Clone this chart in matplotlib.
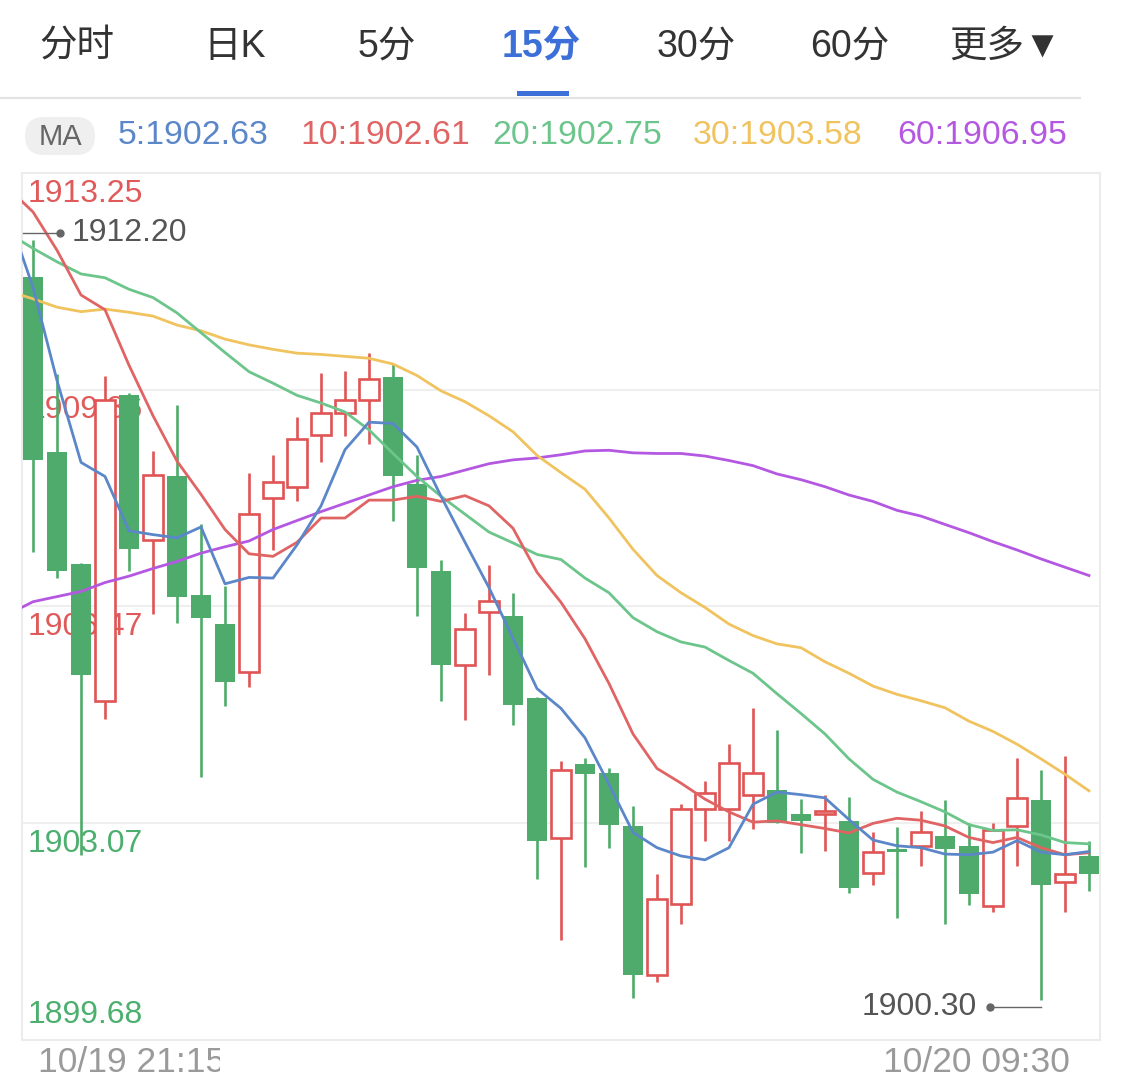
import matplotlib
matplotlib.use("Agg")
import matplotlib.pyplot as plt
import numpy as np
from matplotlib.patches import FancyBboxPatch, Rectangle
from matplotlib.transforms import Bbox, TransformedBbox, offset_copy

plt.rcParams["font.family"] = ["Liberation Sans", "Noto Sans CJK SC", "DejaVu Sans"]

# ---- data (15-minute candles) ----
opens = [1911.62, 1908.88, 1907.13, 1904.99, 1909.77, 1907.51, 1908.50, 1906.65, 1906.19, 1905.44,
         1908.16, 1908.33, 1909.15, 1909.50, 1909.69, 1910.06, 1908.38, 1907.02, 1905.55, 1906.38,
         1906.31, 1905.03, 1902.84, 1904.00, 1903.86, 1903.03, 1900.70, 1901.81, 1903.29, 1903.30,
         1903.52, 1903.60, 1903.21, 1903.21, 1903.10, 1902.30, 1902.67, 1902.72, 1902.88, 1902.72,
         1901.77, 1903.03, 1903.43, 1902.16, 1902.56]
highs = [1912.20, 1910.10, 1907.15, 1910.08, 1909.80, 1908.90, 1909.62, 1907.75, 1906.79, 1908.56,
         1908.84, 1909.43, 1910.12, 1910.15, 1910.43, 1910.26, 1908.83, 1907.20, 1906.37, 1907.12,
         1906.68, 1905.05, 1904.04, 1904.09, 1903.93, 1903.34, 1902.28, 1903.38, 1903.74, 1904.31,
         1904.87, 1904.53, 1903.45, 1903.52, 1903.48, 1902.93, 1903.01, 1903.27, 1903.43, 1903.07,
         1903.07, 1904.09, 1903.90, 1904.12, 1902.80]
lows = [1907.32, 1906.91, 1902.58, 1904.71, 1907.02, 1906.35, 1906.21, 1903.80, 1904.91, 1905.20,
        1907.35, 1908.11, 1908.72, 1909.13, 1909.01, 1907.81, 1906.31, 1904.99, 1904.69, 1905.40,
        1904.61, 1902.20, 1901.25, 1902.38, 1902.69, 1900.33, 1900.59, 1901.49, 1902.79, 1902.79,
        1902.99, 1903.07, 1902.61, 1902.64, 1901.98, 1902.10, 1901.59, 1902.40, 1901.49, 1901.79,
        1901.69, 1902.40, 1900.30, 1901.69, 1902.01]
closes = [1908.76, 1907.02, 1905.40, 1909.69, 1907.36, 1908.53, 1906.61, 1906.29, 1905.28, 1907.91,
          1908.41, 1909.08, 1909.50, 1909.69, 1910.03, 1908.50, 1907.06, 1905.55, 1906.11, 1906.55,
          1904.92, 1902.80, 1903.90, 1903.84, 1903.05, 1900.70, 1901.88, 1903.29, 1903.55, 1904.02,
          1903.86, 1903.07, 1903.11, 1903.26, 1902.06, 1902.62, 1902.62, 1902.93, 1902.67, 1901.97,
          1902.96, 1903.46, 1902.10, 1902.28, 1902.28]

# moving averages, first value belongs to the candle just left of the view
ma5 = [1912.55, 1911.46, 1910.00, 1908.72, 1908.50, 1907.65, 1907.59, 1907.54, 1907.71, 1906.82,
       1906.92, 1906.91, 1907.43, 1908.04, 1908.92, 1909.35, 1909.33, 1908.96, 1908.19, 1907.47,
       1906.76, 1905.97, 1905.18, 1904.87, 1904.41, 1903.68, 1902.93, 1902.69, 1902.56, 1902.50,
       1902.69, 1903.37, 1903.56, 1903.52, 1903.47, 1903.13, 1902.81, 1902.72, 1902.69, 1902.59,
       1902.58, 1902.62, 1902.80, 1902.62, 1902.58, 1902.63]
ma10 = [1913.00, 1912.64, 1912.04, 1911.34, 1911.11, 1910.24, 1909.45, 1908.74, 1908.22, 1907.67,
        1907.29, 1907.25, 1907.47, 1907.85, 1907.85, 1908.13, 1908.13, 1908.19, 1908.11, 1908.20,
        1908.04, 1907.69, 1907.00, 1906.53, 1905.96, 1905.26, 1904.47, 1903.93, 1903.70, 1903.45,
        1903.25, 1903.09, 1903.11, 1903.05, 1902.99, 1902.92, 1903.07, 1903.15, 1903.12, 1903.03,
        1902.85, 1902.77, 1902.85, 1902.69, 1902.58, 1902.61]
ma20 = [1912.30, 1912.07, 1911.86, 1911.67, 1911.61, 1911.43, 1911.30, 1911.06, 1910.75, 1910.44,
        1910.14, 1909.96, 1909.77, 1909.65, 1909.51, 1909.23, 1908.86, 1908.50, 1908.19, 1907.91,
        1907.63, 1907.46, 1907.28, 1907.20, 1906.91, 1906.68, 1906.29, 1906.07, 1905.91, 1905.83,
        1905.62, 1905.42, 1905.10, 1904.79, 1904.47, 1904.08, 1903.76, 1903.56, 1903.41, 1903.25,
        1903.05, 1902.96, 1902.97, 1902.89, 1902.77, 1902.75]
ma30 = [1911.40, 1911.28, 1911.15, 1911.08, 1911.12, 1911.07, 1911.01, 1910.87, 1910.78, 1910.65,
        1910.56, 1910.49, 1910.43, 1910.41, 1910.38, 1910.35, 1910.26, 1910.08, 1909.84, 1909.67,
        1909.45, 1909.20, 1908.83, 1908.56, 1908.30, 1907.85, 1907.36, 1906.95, 1906.68, 1906.45,
        1906.19, 1906.01, 1905.88, 1905.82, 1905.60, 1905.42, 1905.22, 1905.09, 1904.99, 1904.88,
        1904.67, 1904.51, 1904.31, 1904.08, 1903.84, 1903.58]
ma60 = [1906.35, 1906.54, 1906.62, 1906.70, 1906.84, 1906.94, 1907.06, 1907.17, 1907.30, 1907.40,
        1907.49, 1907.67, 1907.81, 1907.95, 1908.08, 1908.21, 1908.34, 1908.44, 1908.50, 1908.60,
        1908.70, 1908.76, 1908.79, 1908.84, 1908.90, 1908.91, 1908.87, 1908.86, 1908.86, 1908.82,
        1908.75, 1908.67, 1908.54, 1908.45, 1908.34, 1908.21, 1908.11, 1907.97, 1907.88, 1907.75,
        1907.62, 1907.48, 1907.35, 1907.21, 1907.08, 1906.95]

ma_labels = ["5:1902.63", "10:1902.61", "20:1902.75", "30:1903.58", "60:1906.95"]
ma_colors = ["#5b87c9", "#e06464", "#6cc58b", "#f0c35e", "#b458e2"]

tabs = ["分时", "日K", "5分", "15分", "30分", "60分", "更多▼"]
active_tab = "15分"

y_ticks = [1913.25, 1909.86, 1906.47, 1903.07, 1899.68]
y_tick_colors = ["#e05a5a", "#e05a5a", "#e05a5a", "#4caf6e", "#4caf6e"]
x_labels = ["10/19 21:15", "10/20 09:30"]
hi_label, lo_label = "1912.20", "1900.30"

GREEN = "#4eab6b"
RED = "#e05454"

W, H = 1125, 1085
fig = plt.figure(figsize=(W / 100, H / 100), dpi=100)
fig.patch.set_facecolor("white")

# pixel-space overlay for the app chrome
hax = fig.add_axes([0, 0, 1, 1], zorder=0)
hax.set_xlim(0, W)
hax.set_ylim(H, 0)
hax.axis("off")

tab_x = [77, 235, 387, 541, 696, 850, 1005]
for name, x in zip(tabs, tab_x):
    active = name == active_tab
    hax.text(x, 47, name, ha="center", va="center", fontsize=27,
             color="#3d6fd8" if active else "#333333",
             fontweight="bold" if active else "normal")
hax.add_patch(Rectangle((517, 91), 52, 5, color="#3d6fd8", lw=0))
hax.plot([0, 1080], [98, 98], color="#e3e3e3", lw=1.5)

hax.add_patch(FancyBboxPatch((25, 117), 70, 38, boxstyle="round,pad=0,rounding_size=19",
                             facecolor="#efefef", edgecolor="none"))
hax.text(60, 137, "MA", ha="center", va="center", fontsize=21, color="#666666")
for lab, col, x in zip(ma_labels, ma_colors, [118, 300, 492, 693, 897]):
    hax.text(x, 136, lab, ha="left", va="center", fontsize=24.3, color=col)

t0 = hax.text(38, 1063, x_labels[0], ha="left", va="center", fontsize=25.5, color="#9a9a9a")
t0.set_clip_box(TransformedBbox(Bbox([[0, 1040], [220, H]]), hax.transData))
t0.set_clip_on(True)
hax.text(1070, 1063, x_labels[1], ha="right", va="center", fontsize=25.5, color="#9a9a9a")

# ---- candlestick axes ----
left, right, top, bottom = 22, 1100, 173, 1040
ax = fig.add_axes([left / W, (H - bottom) / H, (right - left) / W, (bottom - top) / H], zorder=1)
ax.set_xlim(-0.46, 44.46)
ax.set_ylim(y_ticks[-1], y_ticks[0])
ax.set_xticks([])
ax.set_yticks([])
for s in ax.spines.values():
    s.set_color("#ececec")
    s.set_linewidth(1.5)
for v in y_ticks[1:-1]:
    ax.axhline(v, color="#efefef", lw=1.5, zorder=0.5)

for i, (v, c) in enumerate(zip(y_ticks, y_tick_colors)):
    if i == len(y_ticks) - 1:
        ax.annotate(f"{v:.2f}", (0, v), xycoords=("axes fraction", "data"),
                    xytext=(4, 12), textcoords="offset points", ha="left", va="baseline",
                    fontsize=23, color=c, zorder=1)
    else:
        ax.annotate(f"{v:.2f}", (0, v), xycoords=("axes fraction", "data"),
                    xytext=(4, -4), textcoords="offset points", ha="left", va="top",
                    fontsize=23, color=c, zorder=1)

o = np.array(opens)
c = np.array(closes)
hi = np.array(highs)
lo = np.array(lows)
idx = np.arange(len(o))
up = c >= o
b_lo = np.minimum(o, c)
b_hi = np.maximum(o, c)
b_h = np.maximum(b_hi - b_lo, 0.05)

ax.vlines(idx[~up], lo[~up], hi[~up], color=GREEN, lw=1.9, zorder=2)
ax.bar(idx[~up], b_h[~up], bottom=b_lo[~up], width=0.84, color=GREEN, lw=0, zorder=3)
ax.vlines(idx[up], b_hi[up], hi[up], color=RED, lw=1.9, zorder=2)
ax.vlines(idx[up], lo[up], b_lo[up], color=RED, lw=1.9, zorder=2)
ax.bar(idx[up], b_h[up], bottom=b_lo[up], width=0.8, facecolor="white",
       edgecolor=RED, lw=1.9, zorder=3)

ma_x = np.arange(-1, len(o))
for series, col in zip([ma60, ma30, ma20, ma10, ma5], ma_colors[::-1]):
    ax.plot(ma_x, series, color=col, lw=2.0, zorder=4, solid_joinstyle="round")

# highest / lowest markers
i_hi = int(np.argmax(hi))
i_lo = int(np.argmin(lo))
up_tr = offset_copy(ax.transData, fig=fig, y=5, units="points")
dn_tr = offset_copy(ax.transData, fig=fig, y=-5, units="points")
ax.plot([i_hi - 0.4, i_hi + 1.12], [hi[i_hi]] * 2, color="#666666", lw=1, transform=up_tr, zorder=5)
ax.plot([i_hi + 1.12], [hi[i_hi]], "o", color="#666666", ms=5, transform=up_tr, zorder=5)
ax.text(i_hi + 1.6, hi[i_hi], hi_label, ha="left", va="center", fontsize=23,
        color="#555555", transform=up_tr, zorder=5)
ax.plot([i_lo, i_lo - 2.12], [lo[i_lo]] * 2, color="#666666", lw=1, transform=dn_tr, zorder=5)
ax.plot([i_lo - 2.12], [lo[i_lo]], "o", color="#666666", ms=5, transform=dn_tr, zorder=5)
ax.text(i_lo - 2.65, lo[i_lo], lo_label, ha="right", va="center", fontsize=23,
        color="#555555", transform=dn_tr, zorder=5)

fig.savefig("out.png", dpi=100, facecolor="white")
